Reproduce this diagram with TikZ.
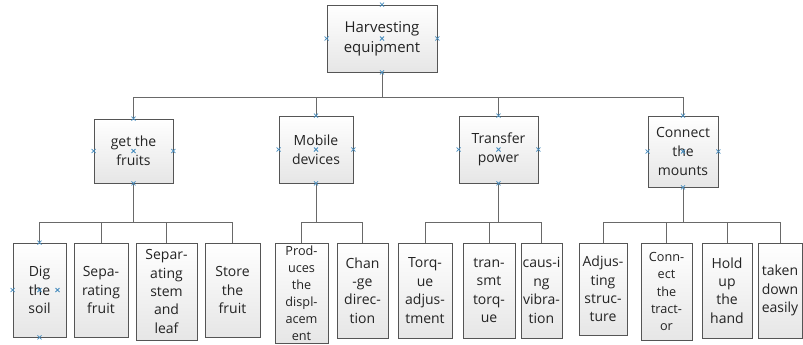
\documentclass[tikz,border=0pt]{standalone}
\usepackage{fontspec}
\setmainfont{Open Sans}
\usetikzlibrary{calc}

\definecolor{boxline}{RGB}{85,85,85}
\definecolor{boxfill}{RGB}{230,230,230}
\definecolor{linkc}{RGB}{105,105,105}
\definecolor{textc}{RGB}{35,35,35}
\definecolor{handlec}{RGB}{70,140,190}

\tikzset{
  box/.style={draw=boxline, line width=0.6pt, top color=white, bottom color=boxfill,
    inner sep=0pt, align=center, text=textc, font=\fontsize{10.5}{14.5}\selectfont},
  rootbox/.style={box, font=\fontsize{11.2}{15}\selectfont},
  leafbox/.style={box, font=\fontsize{10.5}{13.8}\selectfont},
  smallleaf/.style={box, font=\fontsize{9.5}{12.8}\selectfont},
  link/.style={draw=linkc, line width=0.75pt},
  handle/.pic={\draw[handlec, line width=0.55pt] (-2,-2) -- (2,2) (-2,2) -- (2,-2);}
}

% box from its corners (in pixels): style, name, x1, y1, x2, y2, text
\newcommand\mkbox[7]{%
  \node[#1, minimum width={(#5-#3)*0.75pt}, minimum height={(#6-#4)*0.75pt}]
    (#2) at ({(#3+#5)/2},{(#4+#6)/2}) {#7};}

\begin{document}
\begin{tikzpicture}[x=0.75pt,y=-0.75pt]
\useasboundingbox (0,0) rectangle (803,344);

% root
\mkbox{rootbox}{root}{327}{5}{437}{72}{Harvesting\\equipment}

% functions
\mkbox{box}{gf}{94}{119}{173}{183}{get the\\fruits}
\mkbox{box}{md}{279}{116}{353}{183}{Mobile\\devices}
\mkbox{box}{tp}{459}{116}{538}{183}{Transfer\\power}
\mkbox{box}{cm}{648}{116}{718}{187}{Connect\\the\\mounts}

% sub-functions
\mkbox{leafbox}{dig}{13}{243}{66}{337}{Dig\\the\\soil}
\mkbox{leafbox}{sf}{74}{243}{128}{337}{Sepa-\\rating\\fruit}
\mkbox{leafbox}{ss}{136}{243}{197}{340}{Separ-\\ating\\stem\\and\\leaf}
\mkbox{leafbox}{st}{205}{243}{260}{337}{Store\\the\\fruit}

\mkbox{smallleaf}{pd}{275}{243}{328}{343}{Prod-\\uces\\the\\displ-\\acem\\ent}
\mkbox{leafbox}{cd}{337}{243}{388}{338}{Chan\\-ge\\direc-\\tion}

\mkbox{leafbox}{ta}{398}{243}{452}{338}{Torq-\\ue\\adjus-\\tment}
\mkbox{leafbox}{tt}{463}{243}{515}{338}{tran-\\smt\\torq-\\ue}
\mkbox{leafbox}{cv}{521}{243}{562}{338}{caus-i\\ng\\vibra-\\tion}

\mkbox{leafbox}{as}{579}{243}{627}{335}{Adjus-\\ting\\struc-\\ture}
\mkbox{smallleaf}{ct}{641}{243}{692}{340}{Conn-\\ect\\the\\tract-\\or}
\mkbox{leafbox}{hh}{702}{243}{752}{338}{Hold\\up\\the\\hand}
\mkbox{leafbox}{td}{758}{243}{802}{338}{taken\\down\\easily}

% bus levels
\coordinate (topbus) at (0,97);
\coordinate (lowbus) at (0,222);

% root to functions
\foreach \m in {gf,md,tp,cm}
  \draw[link] (root.south) |- (\m.north |- topbus) -- (\m.north);

% functions to sub-functions
\foreach \c in {dig,sf,ss,st}
  \draw[link] (gf.south) |- (\c.north |- lowbus) -- (\c.north);
\foreach \c in {pd,cd}
  \draw[link] (md.south) |- (\c.north |- lowbus) -- (\c.north);
\foreach \c in {ta,tt,cv}
  \draw[link] (tp.south) |- (\c.north |- lowbus) -- (\c.north);
\foreach \c in {as,ct,hh,td}
  \draw[link] (cm.south) |- (\c.north |- lowbus) -- (\c.north);

% selection handles
\foreach \n in {root,gf,md,tp,cm}
  \foreach \a in {north,south,east,west,center}
    \pic at (\n.\a) {handle};
\foreach \a in {north,south,west,center}
  \pic at (dig.\a) {handle};
\pic at ($(dig.center)+(18,0)$) {handle};
\end{tikzpicture}
\end{document}
